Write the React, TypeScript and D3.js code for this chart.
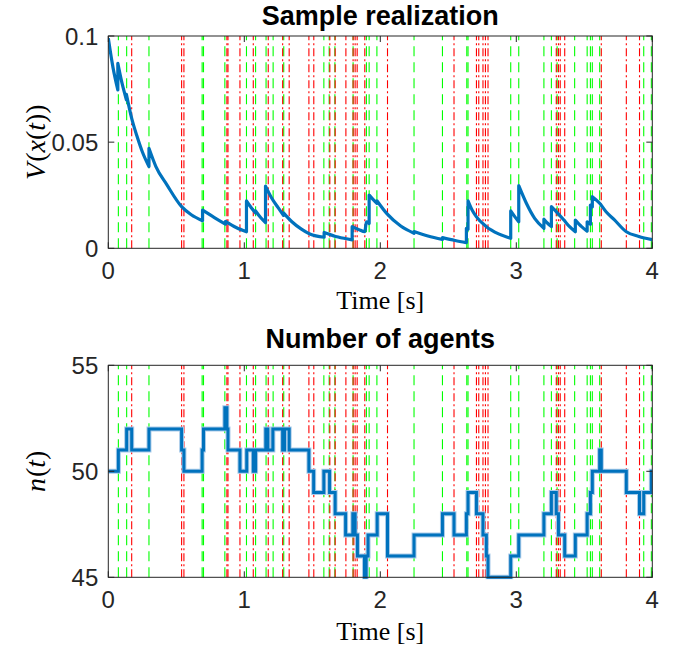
import React from 'react';
import * as d3 from 'd3';

// ---- data ----
const arrivalTimes = [0.074, 0.135, 0.299, 0.69, 0.7, 0.857, 1.016, 1.083, 1.16, 1.212, 1.29, 1.585, 1.624, 1.666, 1.8, 1.898, 1.918, 1.975, 2.248, 2.457, 2.636, 2.645, 2.959, 3.018, 3.203, 3.258, 3.3, 3.429, 3.521, 3.545, 3.559, 3.613, 3.937, 3.993];
const departureTimes = [0.172, 0.539, 0.556, 0.872, 0.88, 0.968, 1.066, 1.176, 1.282, 1.33, 1.475, 1.511, 1.629, 1.668, 1.747, 1.8, 1.815, 1.83, 1.886, 2.053, 2.542, 2.707, 2.724, 2.755, 2.773, 2.792, 3.294, 3.31, 3.323, 3.356, 3.625, 3.809, 3.906];

// V(x(t)) samples; a repeated time marks a jump
const vPoints: [number, number][] = [
  [0, 0.099], [0.035, 0.085], [0.07, 0.0746],
  [0.07, 0.0871], [0.1, 0.078], [0.133, 0.07],
  [0.133, 0.0725], [0.172, 0.0612], [0.21, 0.053], [0.25, 0.0455], [0.299, 0.0385],
  [0.299, 0.0471], [0.35, 0.0385], [0.43, 0.0300], [0.539, 0.0196], [0.61, 0.0158], [0.693, 0.013],
  [0.693, 0.018], [0.78, 0.0145], [0.862, 0.0114],
  [0.862, 0.0127], [0.94, 0.0098], [1.016, 0.0078],
  [1.016, 0.0223], [1.05, 0.0192], [1.083, 0.0166],
  [1.083, 0.0176], [1.12, 0.0145], [1.156, 0.0121],
  [1.156, 0.0293], [1.2, 0.0238], [1.25, 0.019], [1.288, 0.0155],
  [1.288, 0.0167], [1.35, 0.0125], [1.42, 0.0090], [1.482, 0.0067], [1.587, 0.0052],
  [1.587, 0.0075], [1.69, 0.0053], [1.793, 0.0040],
  [1.793, 0.0102], [1.84, 0.0089], [1.886, 0.0078],
  [1.898, 0.0125], [1.918, 0.0117],
  [1.918, 0.0251], [1.95, 0.0228], [1.975, 0.0212],
  [1.975, 0.0224], [2.05, 0.0162], [2.15, 0.0105], [2.248, 0.0071],
  [2.248, 0.0079], [2.35, 0.0058], [2.457, 0.0042],
  [2.457, 0.005], [2.55, 0.0037], [2.633, 0.0027],
  [2.633, 0.0094], [2.645, 0.009],
  [2.645, 0.0223], [2.675, 0.018], [2.707, 0.0148], [2.78, 0.0102], [2.87, 0.0068], [2.959, 0.0047],
  [2.959, 0.0176], [2.99, 0.0148], [3.018, 0.0125],
  [3.018, 0.0295], [3.074, 0.0212], [3.135, 0.0141], [3.203, 0.0094],
  [3.203, 0.0137], [3.23, 0.0118], [3.258, 0.0102],
  [3.258, 0.0196], [3.3, 0.0168], [3.35, 0.0133], [3.39, 0.0103], [3.434, 0.0078],
  [3.434, 0.0133], [3.48, 0.0102], [3.521, 0.0081],
  [3.521, 0.0125], [3.545, 0.0113],
  [3.545, 0.0204], [3.559, 0.0195],
  [3.559, 0.0243], [3.613, 0.0212], [3.66, 0.0172], [3.72, 0.0135], [3.809, 0.0078], [3.9, 0.0056], [4.0, 0.0041],
];

// n(t) change points: [time, count]
const nSteps: [number, number][] = [
  [0, 50], [0.074, 51], [0.135, 52], [0.172, 51], [0.299, 52], [0.539, 51], [0.556, 50], [0.69, 51], [0.7, 52],
  [0.857, 53], [0.872, 52], [0.88, 51], [0.968, 50], [1.018, 51], [1.066, 50], [1.083, 51], [1.158, 52], [1.173, 51],
  [1.21, 52], [1.282, 51], [1.296, 52], [1.33, 51], [1.475, 50], [1.51, 49], [1.585, 50], [1.627, 49], [1.668, 48],
  [1.745, 47], [1.798, 48], [1.815, 47], [1.832, 46], [1.884, 45], [1.896, 46], [1.91, 47], [1.977, 48], [2.053, 46],
  [2.248, 47], [2.457, 48], [2.542, 47], [2.633, 48], [2.645, 49], [2.707, 48], [2.755, 47], [2.78, 46], [2.792, 45],
  [2.959, 46], [3.018, 47], [3.203, 48], [3.258, 49], [3.294, 48], [3.31, 47], [3.356, 46], [3.434, 47], [3.521, 48],
  [3.545, 49], [3.559, 50], [3.613, 51], [3.625, 50], [3.809, 49], [3.906, 48], [3.937, 49], [3.993, 50], [4.0, 50],
];

const xTicks = [0, 1, 2, 3, 4];
const vTicks = [0, 0.05, 0.1];
const vTickLabels = ['0', '0.05', '0.1'];
const nTicks = [45, 50, 55];
const nTickLabels = ['45', '50', '55'];

// ---- layout ----
const W = 681;
const H = 656;
const L = 108.3;
const R = 652.3;
const top1 = 36;
const bot1 = 248.3;
const top2 = 365.3;
const bot2 = 577.3;

const AX = '#262626';
const tickFont = '"Liberation Sans", Arial, Helvetica, sans-serif';
const serif = '"Liberation Serif", "DejaVu Serif", serif';
const TICK_FS = 24;

function EventLines({ x, y0, y1 }: { x: d3.ScaleLinear<number, number>; y0: number; y1: number }) {
  return (
    <g>
      {arrivalTimes.map((t, i) => (
        <line key={'a' + i} x1={x(t)} x2={x(t)} y1={y1} y2={y0} stroke="#00ff00" strokeWidth={1.1} strokeDasharray="10,6" />
      ))}
      {departureTimes.map((t, i) => (
        <line key={'d' + i} x1={x(t)} x2={x(t)} y1={y1} y2={y0} stroke="#ff0000" strokeWidth={1.1} strokeDasharray="8,3,2,3" />
      ))}
    </g>
  );
}

function AxesFrame({ x, y, ticks, labels, y0, y1 }: any) {
  const tl = 6;
  return (
    <g>
      <rect x={L} y={y0} width={R - L} height={y1 - y0} fill="none" stroke={AX} strokeWidth={1} />
      {xTicks.map((t) => (
        <g key={'xt' + t}>
          <line x1={x(t)} x2={x(t)} y1={y1} y2={y1 - tl} stroke={AX} strokeWidth={1} />
          <line x1={x(t)} x2={x(t)} y1={y0} y2={y0 + tl} stroke={AX} strokeWidth={1} />
          <text x={x(t)} y={y1 + 31} textAnchor="middle" fontFamily={tickFont} fontSize={TICK_FS} fill={AX}>
            {t}
          </text>
        </g>
      ))}
      {ticks.map((v: number, i: number) => (
        <g key={'yt' + i}>
          <line x1={L} x2={L + tl} y1={y(v)} y2={y(v)} stroke={AX} strokeWidth={1} />
          <line x1={R} x2={R - tl} y1={y(v)} y2={y(v)} stroke={AX} strokeWidth={1} />
          <text x={L - 10} y={y(v) + 9} textAnchor="end" fontFamily={tickFont} fontSize={TICK_FS} fill={AX}>
            {labels[i]}
          </text>
        </g>
      ))}
    </g>
  );
}

export default function App() {
  const x = d3.scaleLinear().domain([0, 4]).range([L, R]);
  const yV = d3.scaleLinear().domain([0, 0.1]).range([bot1, top1]);
  const yN = d3.scaleLinear().domain([45, 55]).range([bot2, top2]);

  // split V points into continuous segments at repeated times
  const segs: [number, number][][] = [];
  vPoints.forEach((p, i) => {
    if (i === 0 || p[0] === vPoints[i - 1][0]) segs.push([p]);
    else segs[segs.length - 1].push(p);
  });
  const vLine = d3
    .line<[number, number]>()
    .x((d) => x(d[0]))
    .y((d) => yV(d[1]))
    .curve(d3.curveMonotoneX);
  const vPath = segs
    .map((s, i) => {
      const d = vLine(s) || '';
      return i === 0 ? d : 'L' + d.slice(1);
    })
    .join('');

  const nLine = d3
    .line<[number, number]>()
    .x((d) => x(d[0]))
    .y((d) => yN(d[1]))
    .curve(d3.curveStepAfter);
  const nPath = nLine(nSteps) || '';

  return (
    <svg width={W} height={H} style={{ position: 'absolute', left: 0, top: 0, background: '#fff' }}>
      <defs>
        <clipPath id="c1">
          <rect x={L} y={top1} width={R - L} height={bot1 - top1} />
        </clipPath>
        <clipPath id="c2">
          <rect x={L} y={top2 - 2} width={R - L} height={bot2 - top2 + 4} />
        </clipPath>
      </defs>

      {/* top plot */}
      <EventLines x={x} y0={top1} y1={bot1} />
      <path d={vPath} fill="none" stroke="#0072BD" strokeWidth={3.2} strokeLinejoin="round" clipPath="url(#c1)" />
      <AxesFrame x={x} y={yV} ticks={vTicks} labels={vTickLabels} y0={top1} y1={bot1} />
      <text x={(L + R) / 2} y={25} textAnchor="middle" fontFamily={tickFont} fontWeight="bold" fontSize={27} fill="#000">
        Sample realization
      </text>
      <text x={(L + R) / 2} y={309} textAnchor="middle" fontFamily={serif} fontSize={26} fill="#000">
        Time [s]
      </text>
      <text transform={`translate(45, ${(top1 + bot1) / 2}) rotate(-90)`} textAnchor="middle" fontFamily={serif} fontSize={28} fill="#000">
        <tspan fontStyle="italic">V</tspan>
        <tspan dx={1}>(</tspan>
        <tspan fontStyle="italic">x</tspan>
        <tspan>(</tspan>
        <tspan fontStyle="italic">t</tspan>
        <tspan>))</tspan>
      </text>

      {/* bottom plot */}
      <EventLines x={x} y0={top2} y1={bot2} />
      <path d={nPath} fill="none" stroke="#a9cbe9" strokeWidth={5} strokeLinejoin="miter" clipPath="url(#c2)" />
      <path d={nPath} fill="none" stroke="#0072BD" strokeWidth={3} strokeLinejoin="miter" clipPath="url(#c2)" />
      <AxesFrame x={x} y={yN} ticks={nTicks} labels={nTickLabels} y0={top2} y1={bot2} />
      <text x={(L + R) / 2} y={348} textAnchor="middle" fontFamily={tickFont} fontWeight="bold" fontSize={27} fill="#000">
        Number of agents
      </text>
      <text x={(L + R) / 2} y={640} textAnchor="middle" fontFamily={serif} fontSize={26} fill="#000">
        Time [s]
      </text>
      <text transform={`translate(45, ${(top2 + bot2) / 2}) rotate(-90)`} textAnchor="middle" fontFamily={serif} fontSize={28} fill="#000">
        <tspan fontStyle="italic">n</tspan>
        <tspan dx={1}>(</tspan>
        <tspan fontStyle="italic">t</tspan>
        <tspan>)</tspan>
      </text>
    </svg>
  );
}
